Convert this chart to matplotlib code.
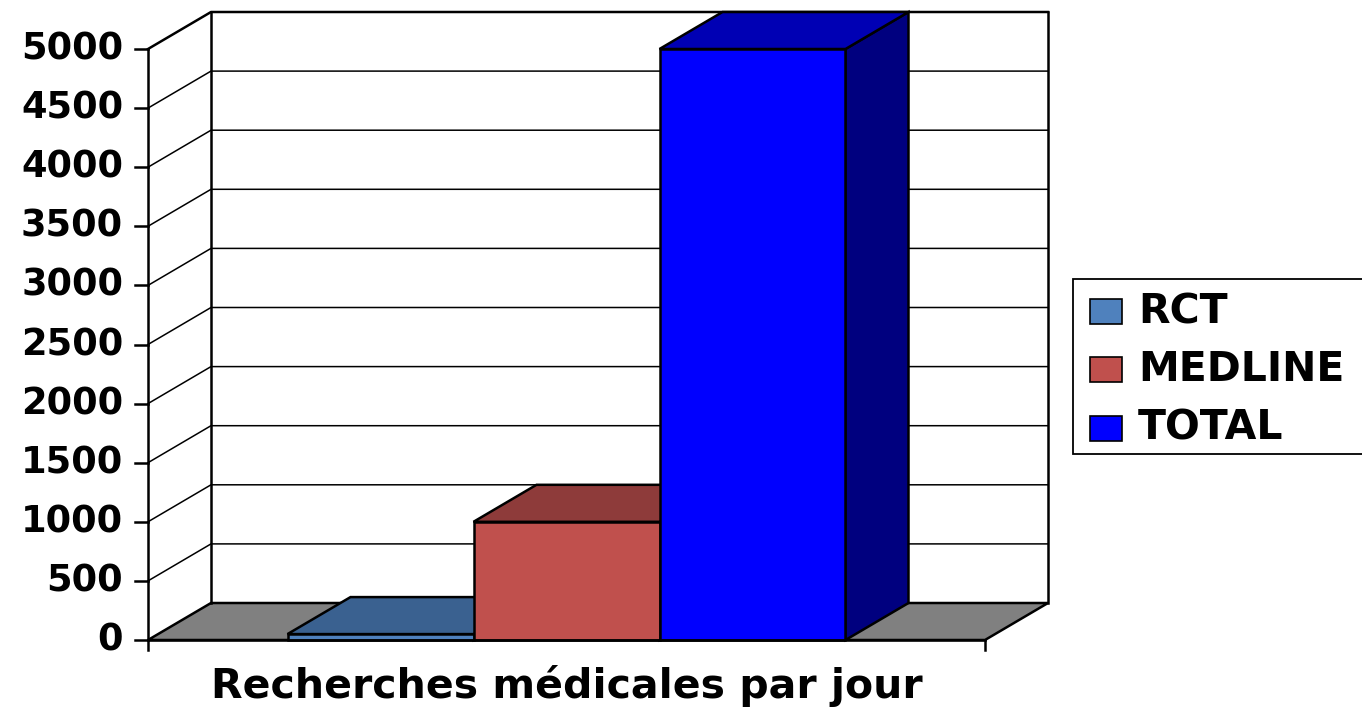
import matplotlib
matplotlib.use("Agg")
import matplotlib.pyplot as plt
from matplotlib.patches import Polygon, Rectangle

# ---- data ----
series = ["RCT", "MEDLINE", "TOTAL"]
values = [50, 1000, 5000]
category_label = "Recherches médicales par jour"
y_ticks = [0, 500, 1000, 1500, 2000, 2500, 3000, 3500, 4000, 4500, 5000]

front_colors = ["#4F81BD", "#C0504D", "#0000FF"]
top_colors = ["#3A6190", "#8E3B3A", "#0000B4"]
side_colors = ["#2C4A6E", "#6E2D2C", "#00007F"]

plt.rcParams['font.family'] = ['DejaVu Sans']

W, H = 1362, 707
fig = plt.figure(figsize=(W / 100, H / 100), dpi=100)
ax = fig.add_axes([0, 0, 1, 1])
ax.axis("off")

# pixel geometry of the front plane
x0_px, x1_px = 148, 985
y0_px, ytop_px = 640, 49
vmax = 5000
sx = x1_px - x0_px            # px per x unit
sy = (y0_px - ytop_px) / vmax  # px per value
ax.set_xlim(-x0_px / sx, (W - x0_px) / sx)
ax.set_ylim(-(H - y0_px) / sy, y0_px / sy)

dx = 63 / sx
dv = 37 / sy

lw_frame = 1.8
lw_grid = 1.1

# floor
ax.add_patch(Polygon([(0, 0), (dx, dv), (1 + dx, dv), (1, 0)], closed=True,
                     facecolor="#808080", edgecolor="black", lw=lw_frame, zorder=1))
# gridlines on side and back walls
for v in y_ticks[1:]:
    lw = lw_frame if v == vmax else lw_grid
    ax.plot([0, dx, 1 + dx], [v, v + dv, v + dv], color="black", lw=lw, zorder=1)
# back wall edges
ax.plot([dx, dx], [dv, vmax + dv], color="black", lw=lw_frame, zorder=1)
ax.plot([1 + dx, 1 + dx], [dv, vmax + dv], color="black", lw=lw_frame, zorder=1)

# bars (gap width 150%)
n = len(series)
bw = 1 / (n + 1.5)
start = 0.75 * bw
for i, (val, fc, tc, sc) in enumerate(zip(values, front_colors, top_colors, side_colors)):
    xl = start + i * bw
    xr = xl + bw
    z = 3 + i
    # side
    ax.add_patch(Polygon([(xr, 0), (xr + dx, dv), (xr + dx, val + dv), (xr, val)],
                         closed=True, facecolor=sc, edgecolor="black", lw=lw_frame, zorder=z))
    # top
    ax.add_patch(Polygon([(xl, val), (xl + dx, val + dv), (xr + dx, val + dv), (xr, val)],
                         closed=True, facecolor=tc, edgecolor="black", lw=lw_frame, zorder=z))
    # front
    ax.add_patch(Polygon([(xl, 0), (xl, val), (xr, val), (xr, 0)],
                         closed=True, facecolor=fc, edgecolor="black", lw=lw_frame, zorder=z))

# axes lines
tick_len = 13 / sx
ax.plot([0, 0], [-10 / sy, vmax], color="black", lw=lw_frame, zorder=10)
ax.plot([0, 1], [0, 0], color="black", lw=lw_frame, zorder=10)
ax.plot([1, 1], [0, -10 / sy], color="black", lw=lw_frame, zorder=10)
for v in y_ticks:
    ax.plot([-tick_len, 0], [v, v], color="black", lw=lw_frame, zorder=10)
    ax.text(-25 / sx, v, str(v), ha="right", va="center", fontsize=26.5,
            fontweight="bold", zorder=10)

ax.text(0.5, -(686 - y0_px) / sy, category_label, ha="center", va="center",
        fontsize=29.5, fontweight="bold")

# legend (drawn in pixel coords of figure)
to_fig = lambda px, py: (px / W, 1 - py / H)
lx, ly_top, ly_bot = 1073, 279, 454
leg = Rectangle(to_fig(lx, ly_bot), (W + 20 - lx) / W, (ly_bot - ly_top) / H,
                transform=fig.transFigure, facecolor="white", edgecolor="black",
                lw=1.3, clip_on=False)
fig.patches.append(leg)
rows_y = [312, 370, 429]
for s, fc, ry in zip(series, front_colors, rows_y):
    fig.patches.append(Rectangle(to_fig(1090, ry + 12), 32 / W, 25 / H,
                                 transform=fig.transFigure, facecolor=fc,
                                 edgecolor="black", lw=1.2))
    fig.text(1138 / W, 1 - ry / H, s, ha="left", va="center", fontsize=29.5,
             fontweight="bold")

fig.savefig("out.png", dpi=100)
